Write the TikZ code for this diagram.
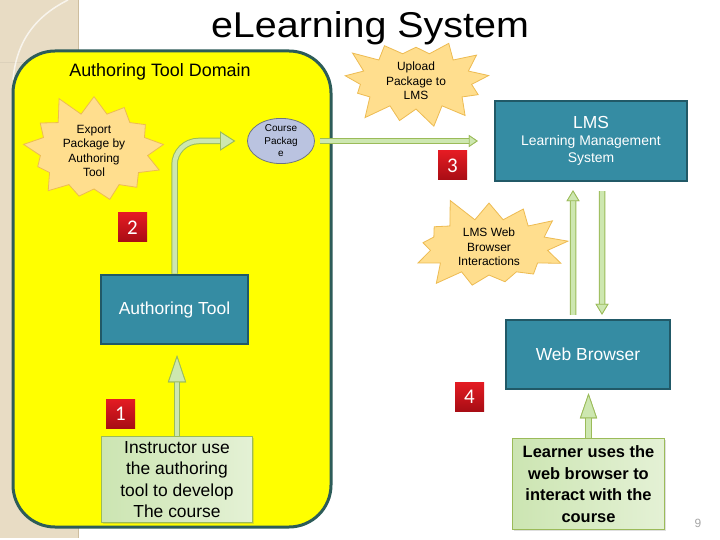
\documentclass[tikz,border=0pt]{standalone}
\usepackage{fontspec}
\usepackage{graphicx}
\setmainfont{Liberation Sans}
\newfontfamily\badgefont{Carlito}
\usetikzlibrary{arrows.meta,shapes.geometric,shapes.symbols,shadows,positioning}
\definecolor{stripbeige}{HTML}{E8DCC4}
\definecolor{stripedge}{HTML}{CDBD9E}
\definecolor{domyellow}{HTML}{FFFF00}
\definecolor{domedge}{HTML}{2D5C59}
\definecolor{tealfill}{HTML}{358CA3}
\definecolor{tealedge}{HTML}{215967}
\definecolor{arrowfill}{HTML}{CDE7B0}
\definecolor{arrowedge}{HTML}{9BBB59}
\definecolor{notefillA}{HTML}{CCE5B2}
\definecolor{notefillB}{HTML}{E4F1D5}
\definecolor{burstfill}{HTML}{FFDE8E}
\definecolor{burstedge}{HTML}{EDBB52}
\definecolor{pkgfill}{HTML}{BAC3E0}
\definecolor{pkgedge}{HTML}{6E7482}
\definecolor{badgetop}{HTML}{E41B23}
\definecolor{badgebot}{HTML}{A80D14}

\begin{document}
\begin{tikzpicture}[x=1bp,y=-1bp,
  tealbox/.style={draw=tealedge,line width=2.5bp,fill=tealfill,text=white,
    align=center,font=\fontsize{17.5}{21}\selectfont},
  notebox/.style={draw=arrowedge,line width=0.8bp,left color=notefillA,right color=notefillB,
    align=center,drop shadow={opacity=0.25,shadow xshift=1.5bp,shadow yshift=-1.5bp}},
  burst/.style={starburst,starburst points=13,starburst point height=22bp,
    draw=burstedge,fill=burstfill,line width=0.8bp,align=center,inner sep=1bp,
    font=\fontsize{12}{14.5}\selectfont},
  badge/.style={minimum size=29bp,inner sep=0pt,top color=badgetop,bottom color=badgebot,
    text=white,font=\badgefont\fontsize{21}{21}\selectfont},
  garrow/.style 2 args={line width=4.5bp,draw=arrowfill,
    preaction={draw=arrowedge,line width=6.5bp},
    -{Triangle[width=#1,length=#2,fill=arrowfill,color=arrowedge,line width'=0.8bp]}}]
  \useasboundingbox (0,0) rectangle (720,540);
  \fill[white] (0,0) rectangle (720,540);
  \fill[stripbeige] (0,0) rectangle (78,538);
  \draw[stripedge] (78,0) -- (78,538);
  \draw[stripedge!70] (0,62) -- (78,62);
  \draw[white,opacity=0.7,line width=1.5bp] (68,0) .. controls (32,18) and (16,45) .. (13,80);
  \draw[domedge,line width=3bp,fill=domyellow,rounded corners=42bp] (13,51) rectangle (331,527);

  \node (title) at (370,28) {\fontsize{36}{40}\selectfont\scalebox{1.1}[1]{eLearning System}};
  \node[font=\fontsize{18}{21}\selectfont] (domlabel) at (160,72) {Authoring Tool Domain};

  \node[burst,minimum width=152bp,minimum height=90bp,random starburst=11] (export) at (94,151)
    {Export\\Package by\\Authoring\\Tool};
  \node[burst,minimum width=156bp,minimum height=76bp,random starburst=23] (upload) at (416,81)
    {Upload\\Package to\\LMS};
  \node[burst,minimum width=170bp,minimum height=100bp,starburst point height=26bp,
    random starburst=5] (webint) at (489,247)
    {LMS Web\\Browser\\Interactions};

  \node[ellipse,draw=pkgedge,line width=0.8bp,fill=pkgfill,minimum width=67bp,minimum height=45bp,
    inner sep=0pt,align=center,font=\fontsize{10}{12.5}\selectfont] (pkg) at (281,141)
    {Course\\Packag\\e};

  \node[tealbox,minimum width=147bp,minimum height=69bp] (authtool) at (174.5,309.5) {Authoring Tool};
  \node[tealbox,minimum width=192bp,minimum height=80bp,font=\fontsize{14}{17}\selectfont] (lms) at (591,141)
    {{\fontsize{17.5}{17}\selectfont LMS}\\Learning Management\\System};
  \node[tealbox,minimum width=164bp,minimum height=69bp] (browser) at (588,354.5) {Web Browser};

  \node[notebox,minimum width=151bp,minimum height=86bp,font=\fontsize{17.5}{21.5}\selectfont]
    (instr) at (177,479.5) {Instructor use\\the authoring\\tool to develop\\The course};
  \node[notebox,minimum width=152bp,minimum height=91bp,font=\bfseries\fontsize{16.5}{21.5}\selectfont]
    (learner) at (588.5,484) {Learner uses the\\web browser to\\interact with the\\course};

  \draw[garrow={19bp}{15bp},rounded corners=24bp,shorten >=12bp] (authtool.north) |- (pkg.west);
  \draw[garrow={12bp}{9bp},shorten <=5bp,shorten >=16bp] (pkg.east) -- (lms.west);
  \draw[garrow={13bp}{11bp}] ([xshift=-15bp,yshift=4bp]browser.north) -- ([xshift=-18bp,yshift=-8bp]lms.south);
  \draw[garrow={13bp}{11bp}] ([xshift=11bp,yshift=-9bp]lms.south) -- ([xshift=14bp,yshift=4bp]browser.north);
  \draw[garrow={18bp}{27bp},shorten >=10bp] (instr.north) -- (instr.north |- authtool.south);
  \draw[garrow={17bp}{25bp},shorten >=3bp] (learner.north) -- (learner.north |- browser.south);

  \node[badge] (one) at (120.5,413.5) {1};
  \node[badge] (two) at (132.5,227.5) {2};
  \node[badge] (three) at (452.5,165.5) {3};
  \node[badge] (four) at (469.5,396.5) {4};

  \node[text=black!35,font=\fontsize{12}{14}\selectfont] (pgnum) at (698,523) {9};
\end{tikzpicture}
\end{document}
